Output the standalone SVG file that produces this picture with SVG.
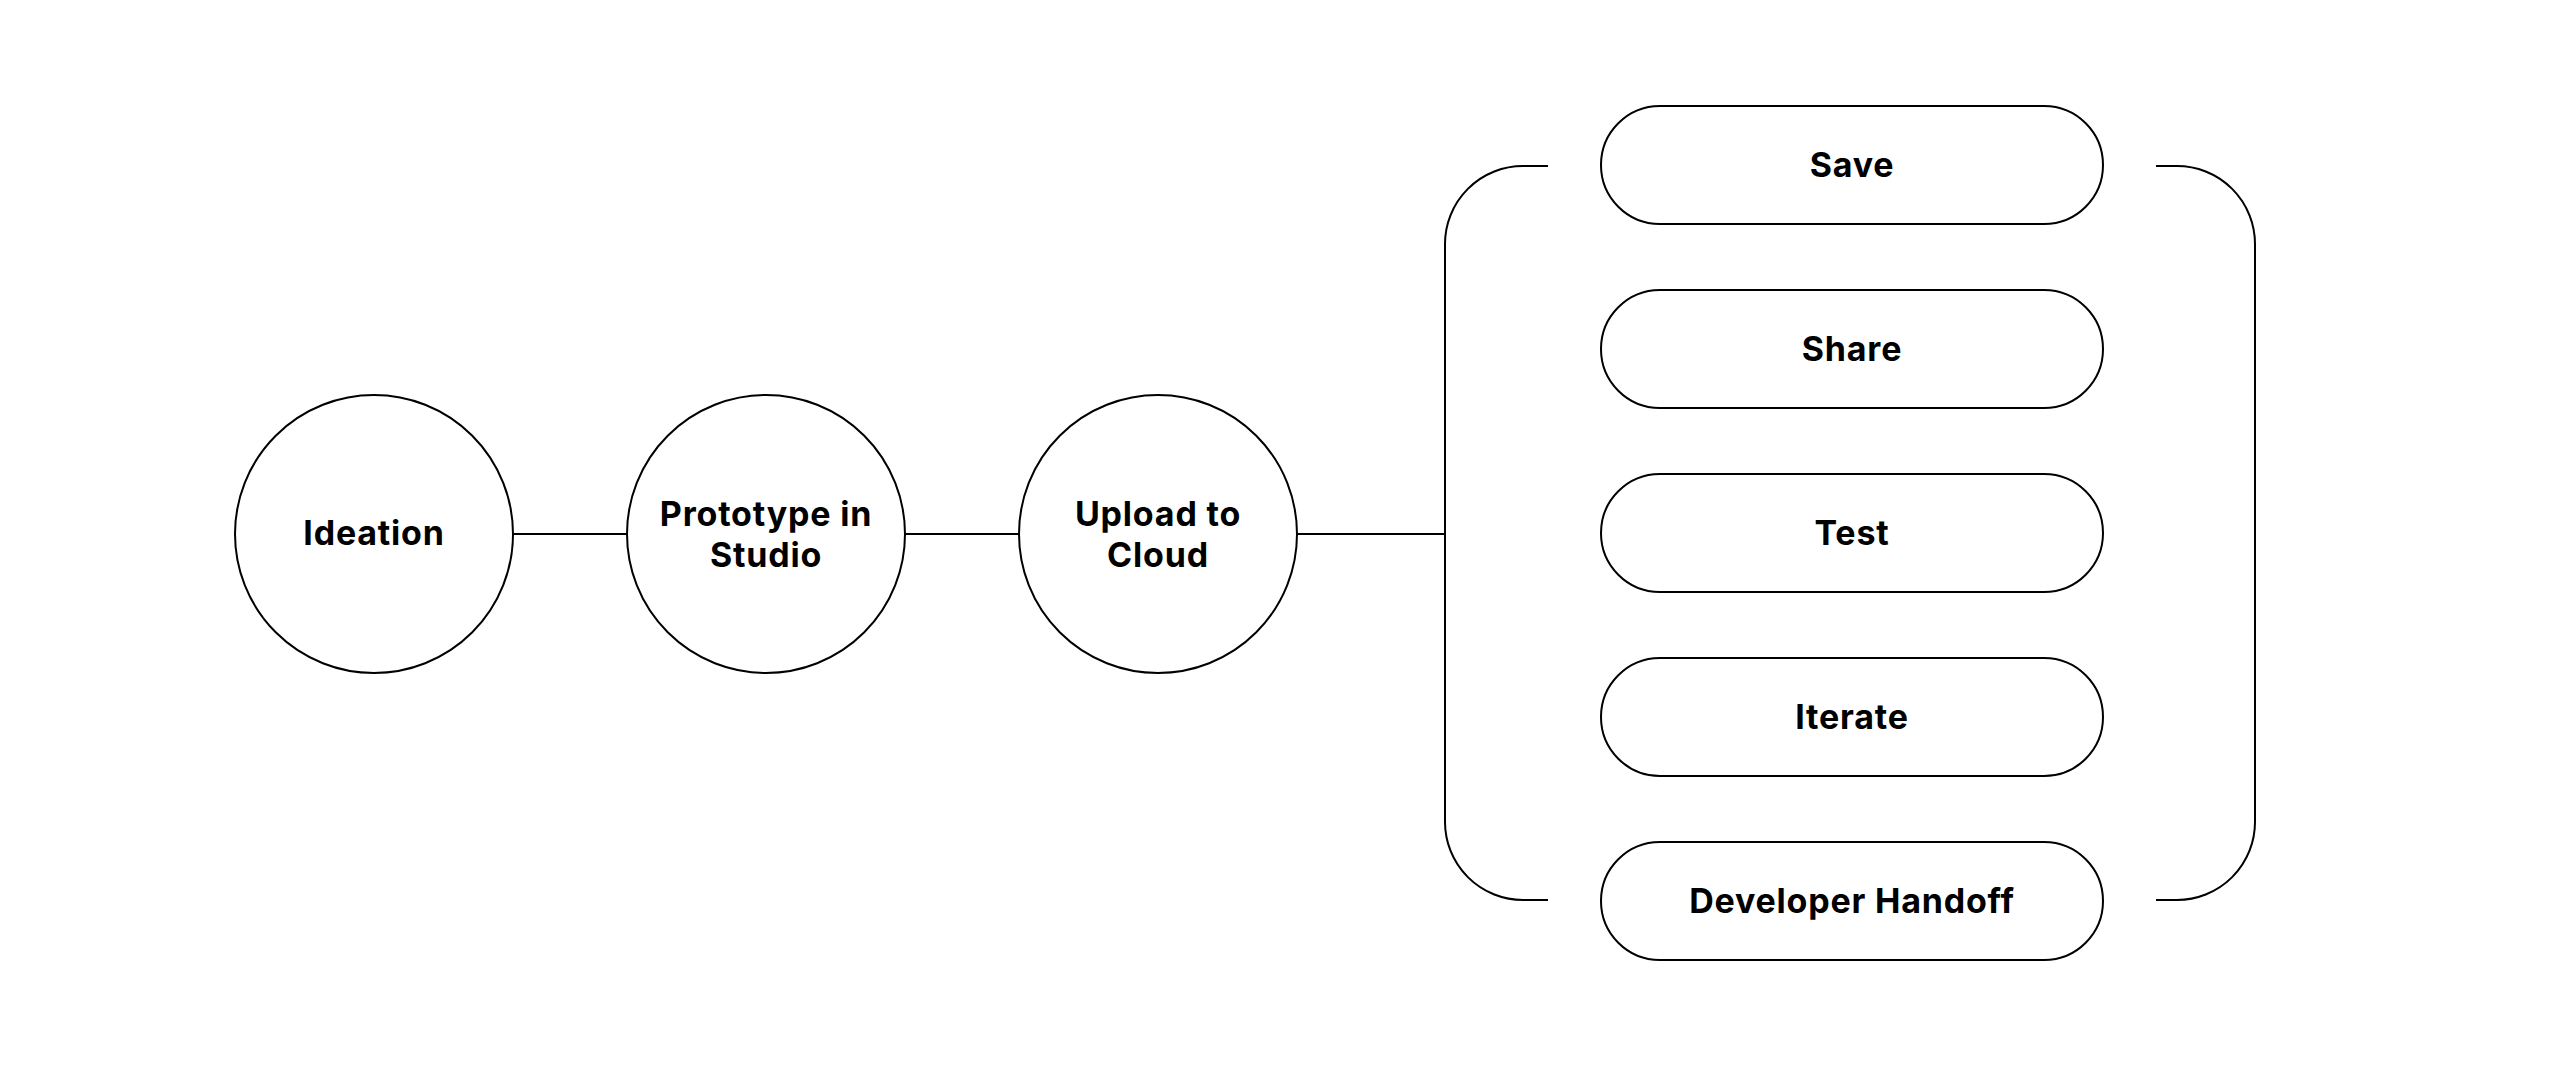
<svg xmlns="http://www.w3.org/2000/svg" width="2560" height="1068" viewBox="0 0 2560 1068">
<style>
.node{fill:#fff;stroke:#000;stroke-width:2}
.conn{fill:none;stroke:#000;stroke-width:2}
.lbl{font-family:Inter,"Liberation Sans",sans-serif;font-weight:700;font-size:34px;letter-spacing:0.8px;fill:#000;text-anchor:middle}
</style>
<rect width="2560" height="1068" fill="#fff"/>
<g id="connectors">
<line class="conn" x1="513" y1="534" x2="627" y2="534"/>
<line class="conn" x1="905" y1="534" x2="1019" y2="534"/>
<line class="conn" x1="1297" y1="534" x2="1445" y2="534"/>
<path class="conn" d="M1548 166 H1523 A78 78 0 0 0 1445 244 V822 A78 78 0 0 0 1523 900 H1548"/>
<path class="conn" d="M2156 166 H2177 A78 78 0 0 1 2255 244 V822 A78 78 0 0 1 2177 900 H2156"/>
</g>
<g id="ideation">
<circle class="node" cx="374" cy="534" r="139"/>
<text class="lbl" x="374" y="545">Ideation</text>
</g>
<g id="prototype">
<circle class="node" cx="766" cy="534" r="139"/>
<text class="lbl" x="766" y="526">Prototype in</text>
<text class="lbl" x="766" y="567">Studio</text>
</g>
<g id="upload">
<circle class="node" cx="1158" cy="534" r="139"/>
<text class="lbl" x="1158" y="526">Upload to</text>
<text class="lbl" x="1158" y="567">Cloud</text>
</g>
<g id="save">
<rect class="node" x="1601" y="106" width="502" height="118" rx="59"/>
<text class="lbl" x="1852" y="177">Save</text>
</g>
<g id="share">
<rect class="node" x="1601" y="290" width="502" height="118" rx="59"/>
<text class="lbl" x="1852" y="361">Share</text>
</g>
<g id="test">
<rect class="node" x="1601" y="474" width="502" height="118" rx="59"/>
<text class="lbl" x="1852" y="545">Test</text>
</g>
<g id="iterate">
<rect class="node" x="1601" y="658" width="502" height="118" rx="59"/>
<text class="lbl" x="1852" y="729">Iterate</text>
</g>
<g id="handoff">
<rect class="node" x="1601" y="842" width="502" height="118" rx="59"/>
<text class="lbl" x="1852" y="913">Developer Handoff</text>
</g>
</svg>
